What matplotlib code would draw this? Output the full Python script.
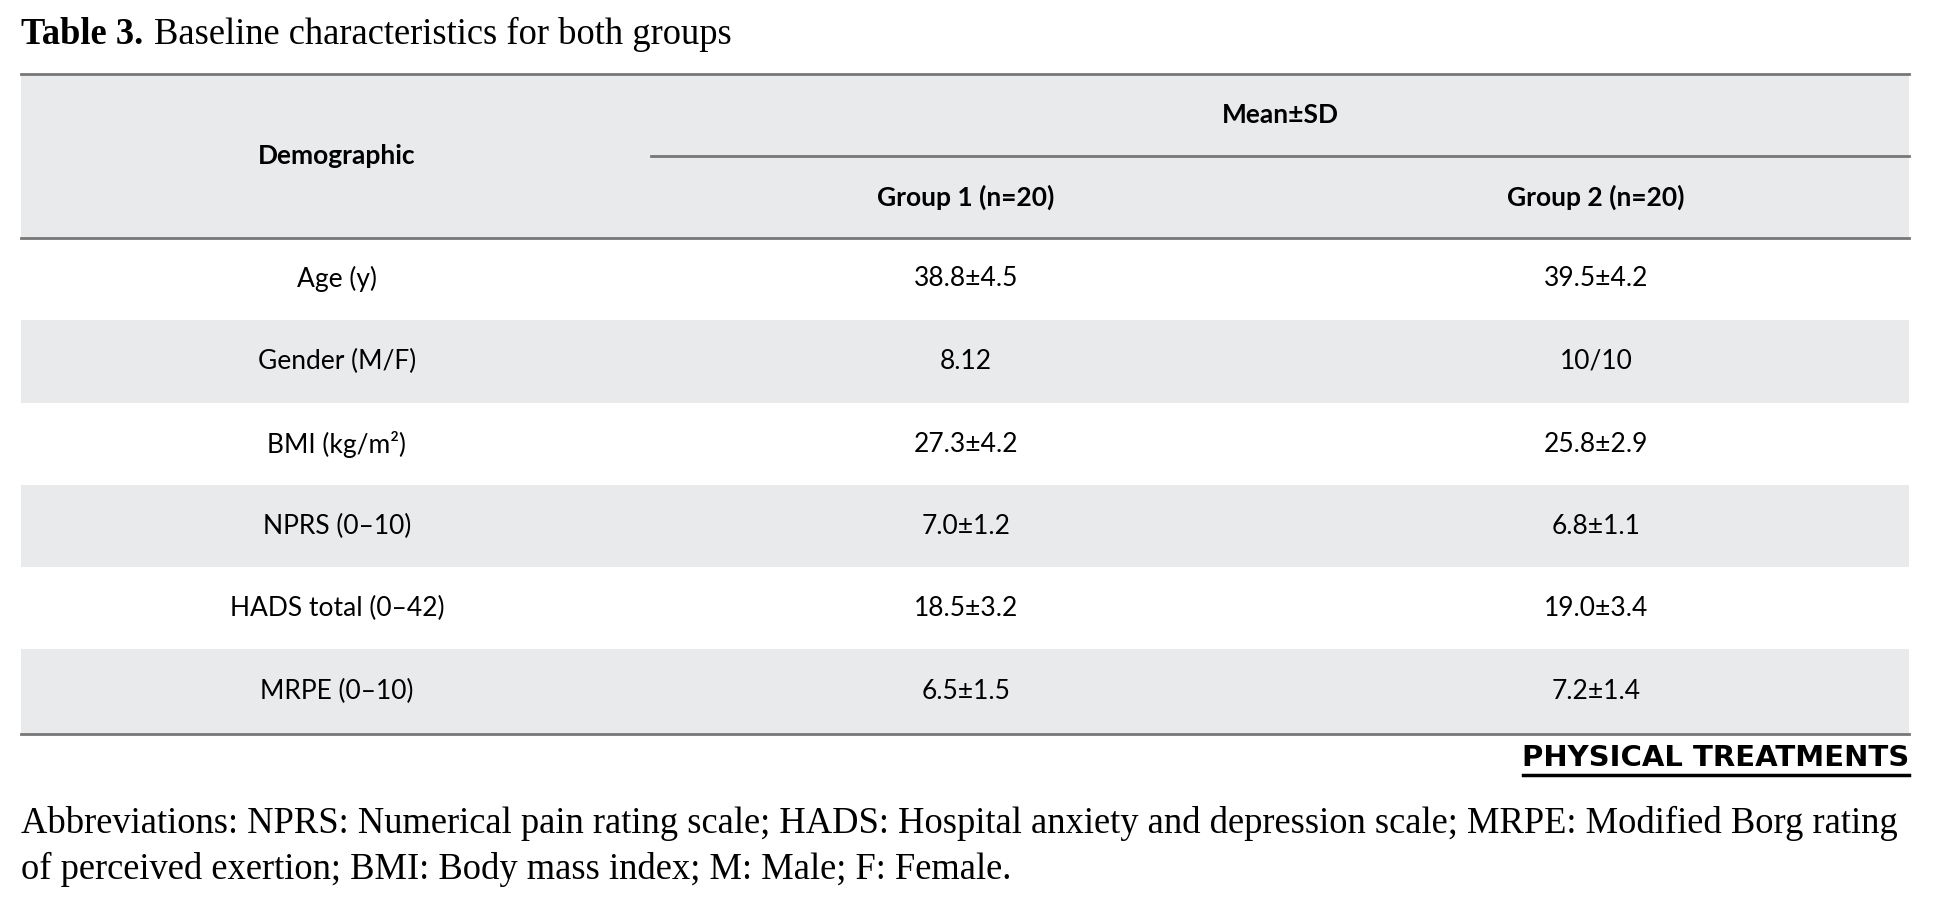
import matplotlib
matplotlib.use("Agg")
import matplotlib.pyplot as plt
from matplotlib.patches import Rectangle

rows = ["Age (y)", "Gender (M/F)", "BMI (kg/m²)", "NPRS (0–10)", "HADS total (0–42)", "MRPE (0–10)"]
group1 = ["38.8±4.5", "8.12", "27.3±4.2", "7.0±1.2", "18.5±3.2", "6.5±1.5"]
group2 = ["39.5±4.2", "10/10", "25.8±2.9", "6.8±1.1", "19.0±3.4", "7.2±1.4"]
headers = ["Demographic", "Group 1 (n=20)", "Group 2 (n=20)"]

W, H = 1955, 919
fig = plt.figure(figsize=(W/100, H/100), dpi=100)
ax = fig.add_axes([0, 0, 1, 1])
ax.set_xlim(0, W); ax.set_ylim(H, 0); ax.axis("off")

L, R = 21, 1909
gray = "#e9eaec"
sans = "Lato"
serif = "Liberation Serif"
fs = 19
sfs = 26.3

ax.text(L, 34, "Table 3.", fontsize=sfs, family=serif, weight="bold", va="center")
ax.text(L+133, 34, "Baseline characteristics for both groups", fontsize=sfs, family=serif, va="center")

top, mid, hb = 74, 156, 238
ax.add_patch(Rectangle((L, top), R-L, hb-top, color=gray, lw=0))
row_edges = [hb, 320, 403, 485, 567, 649, 734]
for i in range(6):
    if i % 2 == 1:
        ax.add_patch(Rectangle((L, row_edges[i]), R-L, row_edges[i+1]-row_edges[i], color=gray, lw=0))
ax.plot([L, R], [top, top], color="#777777", lw=2)
ax.plot([651, R], [mid, mid], color="#777777", lw=2)
ax.plot([L, R], [hb, hb], color="#777777", lw=2)
ax.plot([L, R], [734, 734], color="#777777", lw=2)

cx = [337, 966, 1596]
ax.text(cx[0], (top+hb)/2, headers[0], fontsize=fs, family=sans, weight="bold", ha="center", va="center")
ax.text((651+R)/2, (top+mid)/2, "Mean±SD", fontsize=fs, family=sans, weight="bold", ha="center", va="center")
ax.text(cx[1], (mid+hb)/2, headers[1], fontsize=fs, family=sans, weight="bold", ha="center", va="center")
ax.text(cx[2], (mid+hb)/2, headers[2], fontsize=fs, family=sans, weight="bold", ha="center", va="center")
for i in range(6):
    y = (row_edges[i]+row_edges[i+1])/2
    for c, t in zip(cx, [rows[i], group1[i], group2[i]]):
        ax.text(c, y, t, fontsize=fs, family=sans, ha="center", va="center")

ax.text(R, 758, "PHYSICAL TREATMENTS", fontsize=21, family="DejaVu Sans", weight="bold",
        ha="right", va="center", color="black")
ax.plot([1523, R], [775, 775], color="black", lw=2.5)

ax.text(L, 823, "Abbreviations: NPRS: Numerical pain rating scale; HADS: Hospital anxiety and depression scale; MRPE: Modified Borg rating",
        fontsize=sfs, family=serif, va="center")
ax.text(L, 869, "of perceived exertion; BMI: Body mass index; M: Male; F: Female.", fontsize=sfs, family=serif, va="center")

fig.savefig("out.png", dpi=100)
